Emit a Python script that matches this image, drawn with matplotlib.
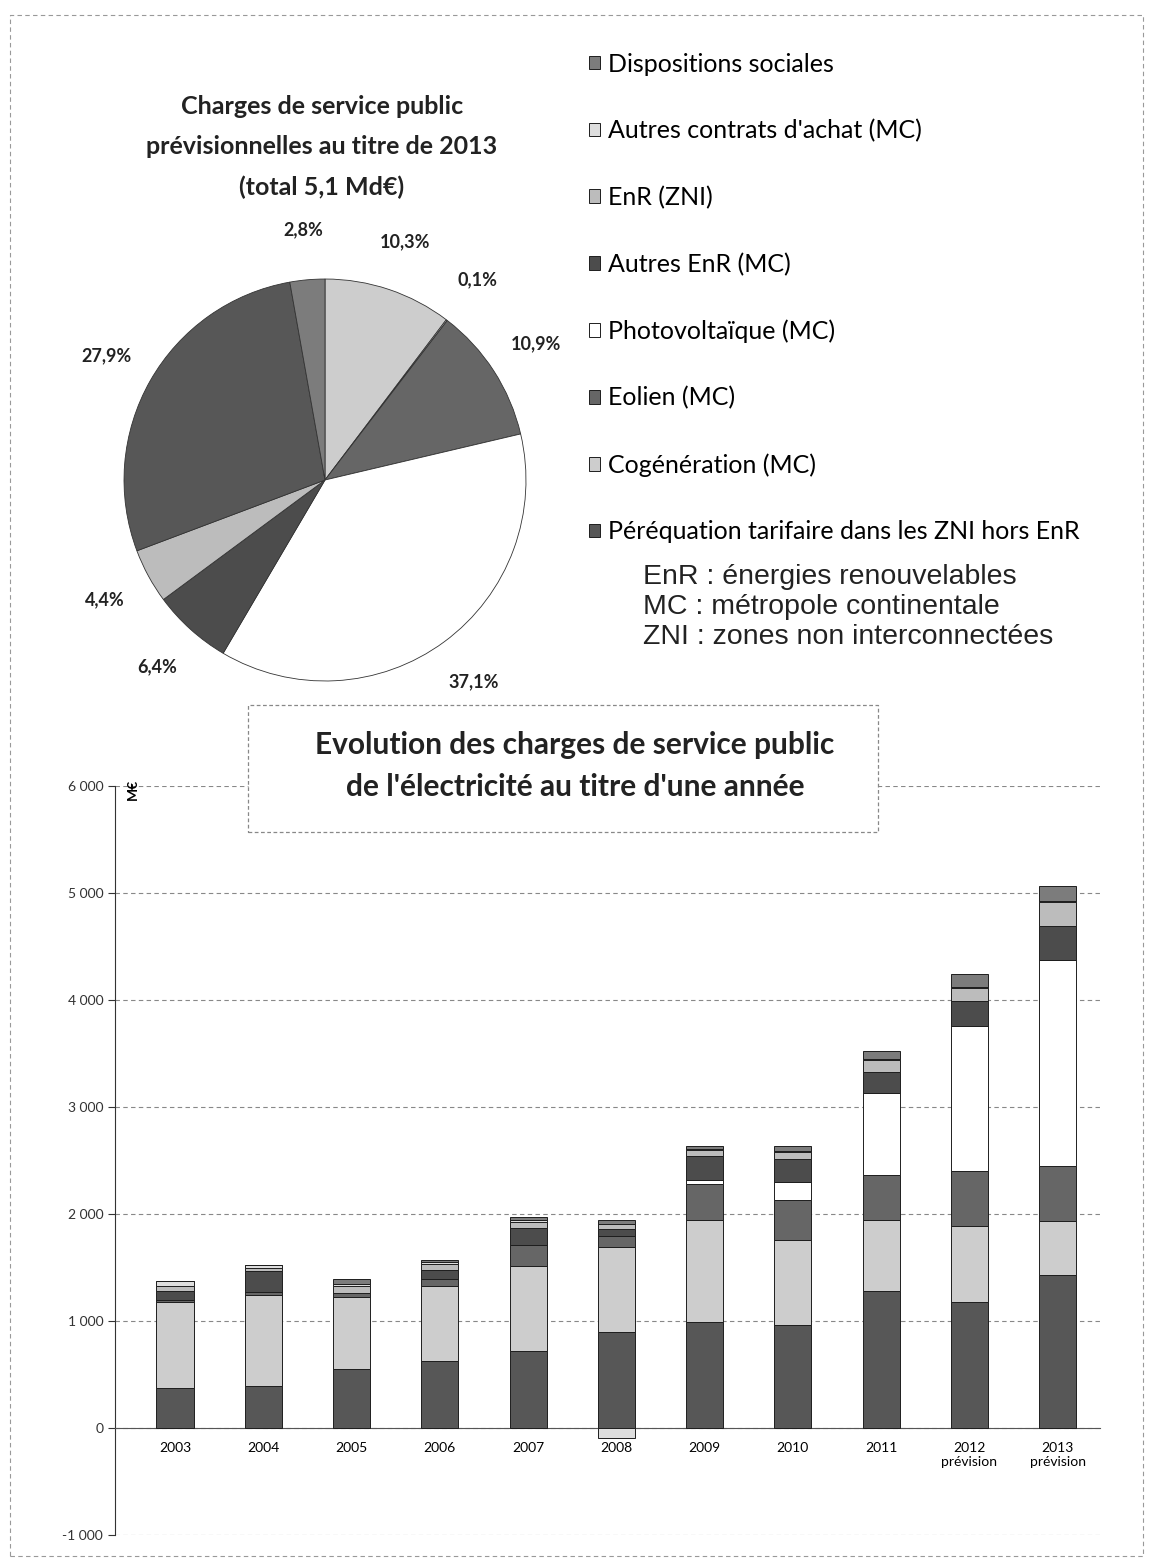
import numpy as np
import matplotlib
matplotlib.use("Agg")
import matplotlib.pyplot as plt
from matplotlib.patches import Rectangle
from matplotlib.ticker import FuncFormatter, MultipleLocator

plt.rcParams["font.family"] = ["Lato", "DejaVu Sans"]

# ---- data (M€) ----
years = ["2003", "2004", "2005", "2006", "2007", "2008", "2009", "2010", "2011",
         "2012\nprévision", "2013\nprévision"]

series = ["Péréquation tarifaire dans les ZNI hors EnR", "Cogénération (MC)", "Eolien (MC)",
          "Photovoltaïque (MC)", "Autres EnR (MC)", "EnR (ZNI)",
          "Autres contrats d'achat (MC)", "Dispositions sociales"]

perequation = [375, 390, 555, 630, 720, 900, 990, 960, 1280, 1180, 1430]
cogeneration = [800, 850, 665, 695, 790, 790, 955, 800, 665, 710, 500]
eolien = [20, 30, 45, 70, 200, 100, 340, 370, 415, 510, 520]
photovoltaique = [0, 0, 0, 0, 0, 0, 30, 170, 770, 1360, 1920]
autres_enr = [90, 200, 0, 85, 155, 70, 230, 215, 200, 230, 325]
enr_zni = [40, 30, 60, 50, 60, 50, 50, 60, 105, 125, 225]
autres_contrats = [50, 25, 25, 20, 20, -90, 10, 10, 10, 5, 5]
dispositions = [0, 0, 40, 20, 30, 30, 30, 50, 80, 125, 145]

# pie 2013, clockwise from 12 o'clock
pie_shares = [10.3, 0.1, 10.9, 37.1, 6.4, 4.4, 27.9, 2.8]
pie_labels = ["10,3%", "0,1%", "10,9%", "37,1%", "6,4%", "4,4%", "27,9%", "2,8%"]
pie_series = [1, 6, 2, 3, 4, 5, 0, 7]

colors = ["#575757", "#cdcdcd", "#666666", "#ffffff", "#4c4c4c", "#bcbcbc", "#dedede", "#7c7c7c"]

W, H = 1151, 1564
fig = plt.figure(figsize=(W / 100, H / 100), dpi=100)


def fx(x):
    return x / W


def fy(y):
    return 1 - y / H


# ---- pie ----
ax_pie = fig.add_axes([fx(120), fy(685), fx(410), 410 / H])
wedges, texts = ax_pie.pie(pie_shares, colors=[colors[i] for i in pie_series],
                           startangle=90, counterclock=False, labels=pie_labels,
                           labeldistance=1.25,
                           wedgeprops=dict(edgecolor="#333333", linewidth=0.6),
                           textprops=dict(fontsize=13, color="#222222", fontweight="bold"))
for t in texts:
    t.set_ha("center")
    t.set_va("center")
ax_pie.set_xlim(-1.02, 1.02)
ax_pie.set_ylim(-1.02, 1.02)
ax_pie.set_aspect("equal")

fig.text(fx(322), fy(147), "Charges de service public\nprévisionnelles au titre de 2013\n(total 5,1 Md€)",
         ha="center", va="center", fontsize=18, fontweight="bold", color="#222222",
         linespacing=1.9)

# ---- bars ----
ax = fig.add_axes([fx(115), fy(1535), 985 / W, (1535 - 786) / H])
x = np.arange(len(years))
data = [perequation, cogeneration, eolien, photovoltaique, autres_enr, enr_zni,
        autres_contrats, dispositions]
pos_base = np.zeros(len(years))
neg_base = np.zeros(len(years))
handles = []
for name, vals, c in zip(series, data, colors):
    vals = np.array(vals, dtype=float)
    bottom = np.where(vals >= 0, pos_base, neg_base)
    b = ax.bar(x, vals, 0.42, bottom=bottom, color=c, edgecolor="#1e1e1e",
               linewidth=0.7, label=name, zorder=3)
    handles.append(b)
    pos_base += np.where(vals >= 0, vals, 0)
    neg_base += np.where(vals < 0, vals, 0)

ax.set_xlim(-0.68, 10.48)
ax.set_ylim(-1000, 6000)
ax.yaxis.set_major_locator(MultipleLocator(1000))
ax.yaxis.set_major_formatter(FuncFormatter(lambda v, p: f"{v:,.0f}".replace(",", " ")))
ax.grid(axis="y", linestyle=(0, (4, 3)), color="#888888", linewidth=0.8, zorder=0)
ax.set_xticks(x)
ax.set_xticklabels(years, fontsize=12, color="#333333", linespacing=1.0)
ax.spines["bottom"].set_position(("data", 0))
ax.spines["bottom"].set_color("#555555")
ax.spines["top"].set_visible(False)
ax.spines["right"].set_visible(False)
ax.spines["left"].set_color("#333333")
ax.tick_params(axis="x", length=0, pad=10)
ax.tick_params(axis="y", labelsize=10, colors="#333333", length=5, direction="out")
ax.text(0.012, 1.01, "M€", transform=ax.transAxes, rotation=90, fontsize=10,
        fontweight="bold", va="top", ha="left")

fig.legend(handles=handles[::-1], labels=series[::-1], loc="upper left",
           bbox_to_anchor=(fx(566), fy(30)), frameon=False, fontsize=18,
           handlelength=0.45, handleheight=0.45, handletextpad=0.35, labelspacing=1.74)

for i, line in enumerate(["EnR : énergies renouvelables", "MC : métropole continentale",
                          "ZNI : zones non interconnectées"]):
    fig.text(fx(643), fy(577 + 30 * i), line, ha="left", va="center", fontsize=20.5,
             family="Liberation Sans", color="#222222")

# title box of the bar chart
fig.patches.append(Rectangle((fx(248), fy(832)), fx(630), 127 / H, transform=fig.transFigure,
                             facecolor="white", edgecolor="#888888", linewidth=0.9,
                             linestyle=(0, (3, 2)), zorder=5))
fig.text(fx(575), fy(766), "Evolution des charges de service public\nde l'électricité au titre d'une année",
         ha="center", va="center", fontsize=21.5, fontweight="bold", color="#222222",
         linespacing=1.6, zorder=6)

# page frame from the scan
fig.patches.append(Rectangle((fx(10), fy(1556)), fx(1133), 1541 / H, transform=fig.transFigure,
                             fill=False, edgecolor="#999999", linewidth=0.8,
                             linestyle=(0, (4, 3)), zorder=0))

fig.savefig("out.png", dpi=100, facecolor="white")
